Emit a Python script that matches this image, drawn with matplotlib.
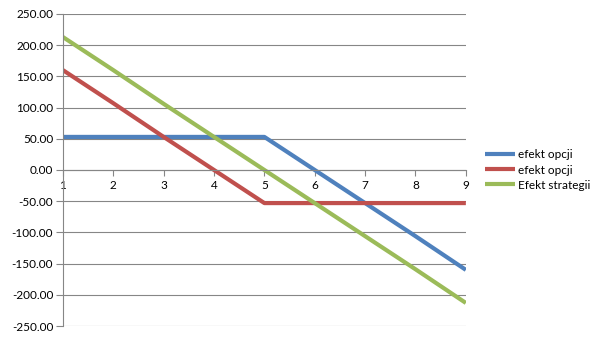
import matplotlib
matplotlib.use("Agg")
import matplotlib.pyplot as plt

plt.rcParams['font.family'] = ['Lato', 'DejaVu Sans']

x = [1, 2, 3, 4, 5, 6, 7, 8, 9]
opcja1 = [53, 53, 53, 53, 53, 0, -53, -106, -160]
opcja2 = [160, 107, 53, 0, -53, -53, -53, -53, -53]
strategia = [a + b for a, b in zip(opcja1, opcja2)]
names = ['efekt opcji', 'efekt opcji', 'Efekt strategii']
colors = ['#4F81BD', '#C0504D', '#9BBB59']

fig = plt.figure(figsize=(6.05, 3.4), dpi=100)
ax = fig.add_axes([0.104, 0.041, 0.666, 0.918])

for ys, name, c in zip([opcja1, opcja2, strategia], names, colors):
    ax.plot(x, ys, color=c, lw=3, label=name, solid_capstyle='butt')

ax.set_xlim(1, 9)
ax.set_ylim(-250, 250)
ax.set_yticks(range(-250, 251, 50))
ax.set_yticklabels(['%.2f' % v for v in range(-250, 251, 50)])
ax.set_xticks(x)
ax.grid(axis='y', color='#868686', lw=0.8)
ax.set_axisbelow(True)

for s in ['top', 'right']:
    ax.spines[s].set_visible(False)
ax.spines['bottom'].set_position(('data', 0))
ax.spines['bottom'].set_color('#868686')
ax.spines['left'].set_color('#868686')
ax.tick_params(axis='y', direction='out', length=5, color='#868686', labelsize=8.5, pad=2)
ax.tick_params(axis='x', direction='out', length=4, color='#868686', labelsize=8.5, pad=3)

ax.legend(loc='center left', bbox_to_anchor=(1.02, 0.5), frameon=False,
          fontsize=8.5, handlelength=2.6, handletextpad=0.2, labelspacing=0.35)

fig.savefig('out.png', dpi=100)
